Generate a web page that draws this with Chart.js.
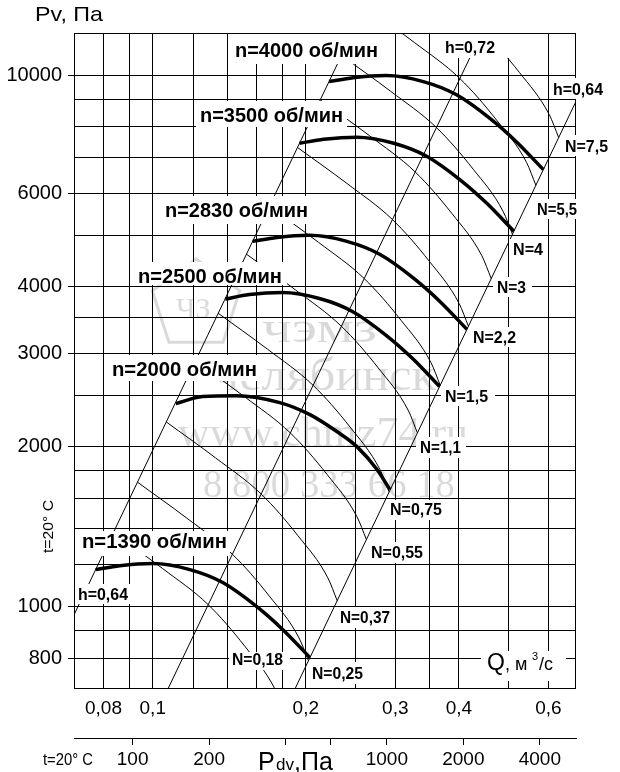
<!DOCTYPE html>
<html>
<head>
<meta charset="utf-8">
<script src="https://cdn.jsdelivr.net/npm/chart.js@4.4.1/dist/chart.umd.min.js"></script>
<style>
  html,body{margin:0;padding:0;background:#fff;}
  canvas{display:block;}
</style>
</head>
<body>
<canvas id="fan" width="620" height="772"></canvas>
<script>
// ---------------- data (Q, м³/с ; Pv, Па) ----------------
// axis ticks
const qTicks  = [0.08,0.09,0.1,0.12,0.14,0.16,0.18,0.2,0.25,0.3,0.35,0.4,0.5,0.6];
const qLabels = [0.08,0.1,0.2,0.3,0.4,0.6];
const pTicks  = [800,900,1000,1200,1400,1600,1800,2000,2500,3000,3500,4000,5000,6000,7000,8000,9000,10000];
const pLabels = [800,1000,2000,3000,4000,6000,10000];
const pdvTicks  = [100,200,400,600,1000,2000,4000];
const pdvLabels = [100,200,1000,2000,4000];
const qRange   = [0.07, 0.68];
const pRange   = [700, 12000];
const pdvRange = [58.8, 5549];

// fan curves, thick (n, об/мин)
const q1390 = [0.0772,0.0861,0.100,0.1183,0.1373,0.1602,0.1803,0.2038];
const p1390 = [1174,1194,1205,1174,1110,1000,905,802];
const q2000 = [0.1110,0.1254,0.1463,0.1778,0.2038,0.2302,0.2521,0.2761,0.2927];
const p2000 = [2410,2484,2494,2420,2297,2135,2000,1811,1660];
const q2500 = [0.1389,0.1549,0.1799,0.2128,0.2470,0.2882,0.3244,0.3666];
const p2500 = [3790,3864,3899,3799,3592,3236,2929,2595];
const q2830 = [0.1572,0.1753,0.2036,0.2409,0.2795,0.3262,0.3671,0.4149];
const p2830 = [4866,4949,4995,4866,4601,4145,3751,3324];
const q3500 = [0.1944,0.2168,0.2518,0.2979,0.3457,0.4034,0.4540,0.5132];
const p3500 = [7443,7570,7640,7443,7037,6340,5738,5085];
const q4000 = [0.2222,0.2478,0.2878,0.3405,0.3951,0.4611,0.5189,0.5865];
const p4000 = [9722,9888,9979,9722,9192,8281,7494,6641];

// power curves, thin (N, кВт)
const qN018 = [0.0836,0.1045,0.1285,0.1518,0.1738,0.1814];
const pN018 = [1378,1180,1009,842,701,635];
const qN025 = [0.0933,0.1166,0.1434,0.1694,0.1940,0.2024];
const pN025 = [1715,1468,1255,1048,873,791];
const qN037 = [0.1063,0.1329,0.1634,0.1930,0.2210,0.2306];
const pN037 = [2226,1905,1629,1360,1133,1026];
const qN055 = [0.1213,0.1516,0.1864,0.2203,0.2522,0.2632];
const pN055 = [2900,2482,2123,1772,1476,1337];
const qN075 = [0.1345,0.1681,0.2067,0.2443,0.2796,0.2918];
const pN075 = [3564,3051,2609,2178,1814,1643];
const qN11  = [0.1529,0.1911,0.2350,0.2777,0.3179,0.3316];
const pN11  = [4603,3940,3369,2812,2343,2122];
const qN15  = [0.1695,0.2119,0.2605,0.3078,0.3524,0.3677];
const pN15  = [5660,4845,4143,3458,2881,2609];
const qN22  = [0.1926,0.2408,0.2960,0.3498,0.4004,0.4178];
const pN22  = [7309,6257,5350,4466,3720,3369];
const qN3   = [0.2135,0.2669,0.3281,0.3877,0.4439,0.4632];
const pN3   = [8984,7690,6576,5489,4573,4141];
const qN4   = [0.2351,0.2939,0.3613,0.4269,0.4888,0.5099];
const pN4   = [10886,9318,7969,6651,5541,5018];
const qN55  = [0.2614,0.3268,0.4018,0.4747,0.5435,0.5670];
const pN55  = [13461,11523,9853,8225,6852,6205];
const qN75  = [0.2898,0.3623,0.4454,0.5263,0.6025,0.6287];
const pN75  = [16551,14168,12115,10113,8424,7629];

// efficiency lines (h)
const qH064a = [0.07,0.2351];  const pH064a = [965,10886];
const qH072  = [0.1071,0.422]; const pH072  = [700,10860];
const qH064b = [0.1904,0.68];  const pH064b = [700,8925];

// ---------------- helpers ----------------
const FONT = '"Liberation Sans", Arial, sans-serif';
const comma = v => String(v).replace('.', ',');
const pts = (q,p) => q.map((v,i)=>({x:v, y:p[i]}));

function thick(q,p){ return {data:pts(q,p), borderColor:'#000', borderWidth:3.5, pointRadius:0, cubicInterpolationMode:'monotone', clip:0}; }
function thin(q,p){  return {data:pts(q,p), borderColor:'#000', borderWidth:1,   pointRadius:0, cubicInterpolationMode:'monotone', clip:0}; }
function straight(q,p){ return {data:pts(q,p), borderColor:'#000', borderWidth:1, pointRadius:0, tension:0, clip:0}; }

// labels with white backing (text, left x, baseline, width, box)
const B20 = 'bold 20px ' + FONT, B16 = 'bold 16px ' + FONT;
const boxedLabels = [
  ['n=4000 об/мин', 235, 57,  143, B20, [231,34,383,64]],
  ['n=3500 об/мин', 200, 122, 143, B20, [196,101,347,127]],
  ['n=2830 об/мин', 165, 217, 143, B20, [161,196,312,224]],
  ['n=2500 об/мин', 138, 283, 144, B20, [134,262,287,285]],
  ['n=2000 об/мин', 112, 376, 145, B20, [108,355,262,381]],
  ['n=1390 об/мин', 82,  548, 145, B20, [78,531,230,556]],
  ['N=0,18', 232, 665, 51, B16, [229,652,290,670]],
  ['N=0,25', 312, 679, 51, B16, [309,662,366,684]],
  ['N=0,37', 340, 623, 50, B16, [336,607,394,628]],
  ['N=0,55', 371, 558, 52, B16, [367,542,426,563]],
  ['N=0,75', 390, 515, 52, B16, [386,500,446,520]],
  ['N=1,1',  420, 453, 41, B16, [416,437,466,458]],
  ['N=1,5',  445, 402, 43, B16, [441,386,495,406]],
  ['N=2,2',  473, 343, 43, B16, [469,327,520,347]],
  ['N=3',    497, 293, 29, B16, [493,277,532,297]],
  ['N=4',    513, 255, 30, B16, [509,239,547,259]],
  ['N=5,5',  537, 215, 40, B16, [533,199,582,219]],
  ['N=7,5',  565, 152, 43, B16, [561,135,612,156]],
  ['h=0,64', 78,  600, 50, B16, [76,584,132,604]],
  ['h=0,64', 553, 95,  50, B16, [549,78,607,99]],
  ['h=0,72', 445, 53,  50, B16, [441,34,509,58]],
];

function fitText(ctx, t, x, y, w, font){
  ctx.font = font;
  const m = ctx.measureText(t).width;
  ctx.save();
  ctx.translate(x, y);
  ctx.scale(w / m, 1);
  ctx.fillText(t, 0, 0);
  ctx.restore();
}

const decor = {
  id: 'decor',
  beforeDatasetsDraw(chart){
    // faint watermark
    const ctx = chart.ctx;
    ctx.save();
    ctx.fillStyle = 'rgba(0,0,0,0.15)';
    ctx.strokeStyle = 'rgba(0,0,0,0.15)';
    ctx.lineWidth = 3;
    ctx.beginPath();
    for(let i=0;i<5;i++){
      const a = -Math.PI/2 + i*2*Math.PI/5;
      const px = 196 + 46*Math.cos(a), py = 305 + 46*Math.sin(a);
      i ? ctx.lineTo(px,py) : ctx.moveTo(px,py);
    }
    ctx.closePath(); ctx.stroke();
    ctx.font = '30px "Liberation Serif", serif';
    ctx.fillText('ЧЗ', 176, 318);
    fitText(ctx, 'чэмз', 262, 342, 115, '44px "Liberation Serif", serif');
    fitText(ctx, 'челябинск', 214, 390, 222, '46px "Liberation Serif", serif');
    fitText(ctx, 'www.chmz74.ru', 178, 446, 290, '42px "Liberation Serif", serif');
    fitText(ctx, '8 800 333 66 18', 203, 497, 252, '40px "Liberation Serif", serif');
    ctx.restore();
  },
  afterDatasetsDraw(chart){
    const ctx = chart.ctx, a = chart.chartArea;
    ctx.save();
    ctx.strokeStyle = '#000'; ctx.lineWidth = 1;
    ctx.strokeRect(Math.round(a.left)+0.5, Math.round(a.top)+0.5, Math.round(a.right-a.left)-1, Math.round(a.bottom-a.top)-1);
    ctx.textBaseline = 'alphabetic'; ctx.textAlign = 'left';
    for(const [t,x,y,w,f,b] of boxedLabels){
      ctx.fillStyle = '#fff';
      ctx.fillRect(b[0], b[1], b[2]-b[0], b[3]-b[1]);
      ctx.fillStyle = '#000';
      fitText(ctx, t, x, y, w, f);
    }
    // Q, м³/с
    ctx.fillStyle = '#fff'; ctx.fillRect(481,651,85,30);
    ctx.fillStyle = '#000';
    ctx.font = '23px ' + FONT; ctx.fillText('Q', 487, 670);
    ctx.font = '18px ' + FONT; ctx.fillText(', м', 505, 670);
    ctx.font = '11px ' + FONT; ctx.fillText('3', 532, 660);
    ctx.font = '18px ' + FONT; ctx.fillText('/с', 539, 670);
    ctx.restore();
  },
  afterDraw(chart){
    const ctx = chart.ctx;
    ctx.save();
    ctx.fillStyle = '#000'; ctx.textBaseline = 'alphabetic'; ctx.textAlign = 'left';
    fitText(ctx, 'Pv, Па', 35, 21, 68, '21px ' + FONT);
    ctx.font = '25px ' + FONT; ctx.fillText('P', 258, 770);
    ctx.font = '17px ' + FONT; ctx.fillText('dv', 276, 770);
    ctx.font = '25px ' + FONT; ctx.fillText(',Па', 294, 770);
    fitText(ctx, 't=20° C', 43, 765, 50, '16px ' + FONT);
    ctx.translate(53, 553); ctx.rotate(-Math.PI/2);
    fitText(ctx, 't=20° C', 0, 0, 53, '15px ' + FONT);
    ctx.restore();
  }
};

new Chart(document.getElementById('fan'), {
  type: 'line',
  data: {
    datasets: [
      straight(qH064a,pH064a), straight(qH072,pH072), straight(qH064b,pH064b),
      thin(qN018,pN018), thin(qN025,pN025), thin(qN037,pN037), thin(qN055,pN055),
      thin(qN075,pN075), thin(qN11,pN11), thin(qN15,pN15), thin(qN22,pN22),
      thin(qN3,pN3), thin(qN4,pN4), thin(qN55,pN55), thin(qN75,pN75),
      thick(q1390,p1390), thick(q2000,p2000), thick(q2500,p2500),
      thick(q2830,p2830), thick(q3500,p3500), thick(q4000,p4000),
    ]
  },
  options: {
    responsive: false, animation: false, events: [],
    layout: { padding: { top: 33, right: 44, left: 0, bottom: 0 } },
    plugins: { legend: { display: false }, tooltip: { enabled: false } },
    scales: {
      x: {
        type: 'logarithmic', position: 'bottom', weight: 0, bounds: 'data',
        min: qRange[0], max: qRange[1],
        afterBuildTicks: s => { s.ticks = qTicks.map(v => ({value: v})); },
        afterFit: s => { s.height = 49; },
        grid: { color: '#000', lineWidth: 1, drawTicks: false },
        border: { display: false },
        ticks: { autoSkip: false, maxRotation: 0, padding: 8, color: '#000',
                 font: { family: FONT, size: 19 },
                 callback: v => qLabels.includes(v) ? comma(v) : '' }
      },
      x2: {
        type: 'logarithmic', position: 'bottom', weight: 1, bounds: 'data',
        min: pdvRange[0], max: pdvRange[1],
        afterBuildTicks: s => { s.ticks = pdvTicks.map(v => ({value: v})); },
        afterFit: s => { s.height = 34; },
        grid: { drawOnChartArea: false, drawTicks: true, tickLength: 7, color: '#000' },
        border: { display: true, color: '#000', width: 1 },
        ticks: { autoSkip: false, maxRotation: 0, padding: 3, color: '#000',
                 font: { family: FONT, size: 19 },
                 callback: v => pdvLabels.includes(v) ? String(v) : '' }
      },
      y: {
        type: 'logarithmic', position: 'left', bounds: 'data',
        min: pRange[0], max: pRange[1],
        afterBuildTicks: s => { s.ticks = pTicks.map(v => ({value: v})); },
        afterFit: s => { s.width = 74; },
        grid: { color: '#000', lineWidth: 1, tickLength: 6,
                tickColor: c => (c.tick && pLabels.includes(c.tick.value)) ? '#000' : 'rgba(0,0,0,0)' },
        border: { display: false },
        ticks: { autoSkip: false, padding: 6, color: '#000',
                 font: { family: FONT, size: 20 },
                 callback: v => pLabels.includes(v) ? String(v) : '' }
      }
    }
  },
  plugins: [decor]
});
</script>
</body>
</html>
